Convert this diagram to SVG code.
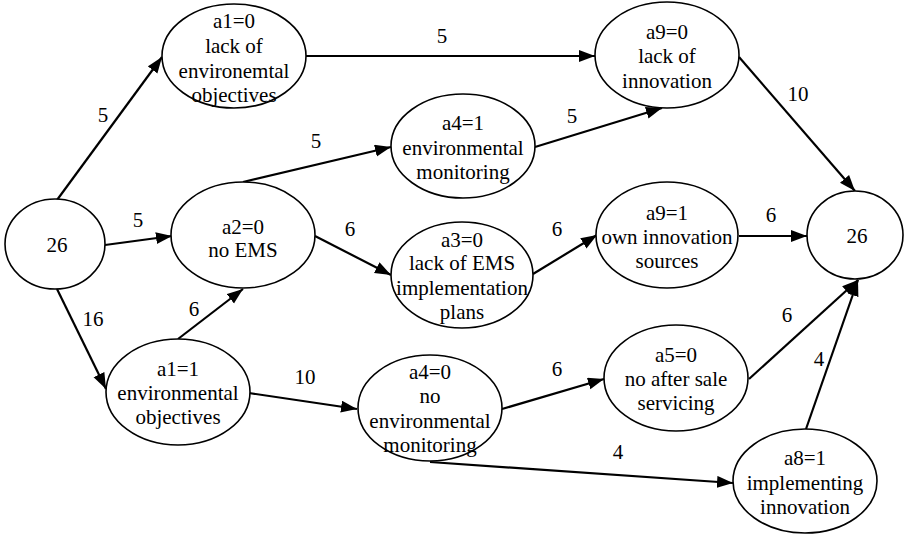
<svg xmlns="http://www.w3.org/2000/svg" width="905" height="536" viewBox="0 0 905 536">
<style>
.n ellipse{fill:#fff;stroke:#000;stroke-width:1.6}
text{font-family:'Liberation Serif','Times New Roman',Times,'DejaVu Serif','Noto Serif',serif;font-size:21px;fill:#000;text-anchor:middle}
.e line{stroke:#000;stroke-width:2.2;marker-end:url(#ah)}
</style>
<defs>
<marker id="ah" markerUnits="userSpaceOnUse" markerWidth="18" markerHeight="14" refX="16" refY="6" orient="auto">
<path d="M0,0 L16,6 L0,12 Z" fill="#000"/>
</marker>
</defs>
<rect width="905" height="536" fill="#fff"/>
<g class="e" id="connectors">
<line x1="57" y1="200" x2="162" y2="57"/>
<line x1="306" y1="56" x2="595" y2="56"/>
<line x1="105" y1="245" x2="172" y2="236"/>
<line x1="243" y1="182" x2="391" y2="147"/>
<line x1="535" y1="147" x2="662" y2="108"/>
<line x1="739" y1="57" x2="855" y2="191"/>
<line x1="315" y1="236" x2="391" y2="275"/>
<line x1="533" y1="274" x2="597" y2="235"/>
<line x1="739" y1="236" x2="807" y2="236"/>
<line x1="57" y1="289" x2="106" y2="389"/>
<line x1="178" y1="339" x2="243" y2="289"/>
<line x1="249" y1="393" x2="357" y2="409"/>
<line x1="502" y1="409" x2="604" y2="379"/>
<line x1="430" y1="462" x2="733" y2="483"/>
<line x1="749" y1="379" x2="858" y2="280"/>
<line x1="806" y1="429" x2="858" y2="280"/>
</g>
<g id="labels">
<text x="103" y="122">5</text>
<text x="442" y="43">5</text>
<text x="138" y="227">5</text>
<text x="316" y="148">5</text>
<text x="572" y="123">5</text>
<text x="798" y="101">10</text>
<text x="350" y="236">6</text>
<text x="557" y="236">6</text>
<text x="771" y="222">6</text>
<text x="93" y="326">16</text>
<text x="194" y="316">6</text>
<text x="305" y="384">10</text>
<text x="557" y="376">6</text>
<text x="618" y="459">4</text>
<text x="787" y="322">6</text>
<text x="819" y="366">4</text>
</g>
<g class="n" id="start"><ellipse cx="55" cy="244" rx="50" ry="45"/><text x="57" y="252">26</text></g>
<g class="n" id="a1_0"><ellipse cx="234" cy="56" rx="72" ry="52"/><text x="234" y="28">a1=0</text><text x="234" y="53">lack of</text><text x="234" y="78">environemtal</text><text x="234" y="102">objectives</text></g>
<g class="n" id="a9_0"><ellipse cx="667" cy="55" rx="72" ry="53"/><text x="667" y="39">a9=0</text><text x="667" y="63">lack of</text><text x="667" y="88">innovation</text></g>
<g class="n" id="a4_1"><ellipse cx="463" cy="146" rx="72" ry="52"/><text x="463" y="130">a4=1</text><text x="463" y="155">environmental</text><text x="463" y="179">monitoring</text></g>
<g class="n" id="a2_0"><ellipse cx="243" cy="235" rx="72" ry="53"/><text x="243" y="234">a2=0</text><text x="243" y="257">no EMS</text></g>
<g class="n" id="a3_0"><ellipse cx="462" cy="275" rx="71" ry="53"/><text x="462" y="247">a3=0</text><text x="462" y="270">lack of EMS</text><text x="462" y="295">implementation</text><text x="462" y="319">plans</text></g>
<g class="n" id="a9_1"><ellipse cx="667" cy="235" rx="71" ry="53"/><text x="667" y="220">a9=1</text><text x="667" y="244">own innovation</text><text x="667" y="268">sources</text></g>
<g class="n" id="end"><ellipse cx="855" cy="235" rx="48" ry="44"/><text x="857" y="243">26</text></g>
<g class="n" id="a1_1"><ellipse cx="178" cy="392" rx="72" ry="53"/><text x="178" y="376">a1=1</text><text x="178" y="400">environmental</text><text x="178" y="424">objectives</text></g>
<g class="n" id="a4_0"><ellipse cx="430" cy="408" rx="72" ry="53"/><text x="430" y="379">a4=0</text><text x="430" y="403">no</text><text x="430" y="428">environmental</text><text x="430" y="452">monitoring</text></g>
<g class="n" id="a5_0"><ellipse cx="676" cy="378" rx="72" ry="53"/><text x="676" y="362">a5=0</text><text x="676" y="386">no after sale</text><text x="676" y="410">servicing</text></g>
<g class="n" id="a8_1"><ellipse cx="805" cy="481" rx="72" ry="52"/><text x="805" y="465">a8=1</text><text x="805" y="490">implementing</text><text x="805" y="514">innovation</text></g>
</svg>
